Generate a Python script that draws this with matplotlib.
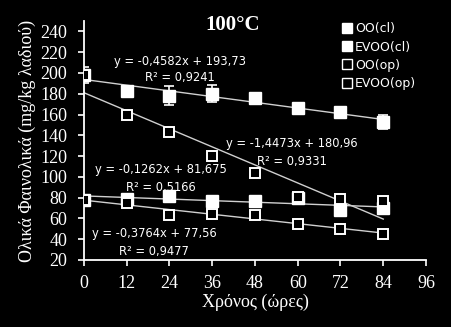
import numpy as np
import matplotlib
matplotlib.use("Agg")
import matplotlib.pyplot as plt

# time points (hours)
hours = [0, 12, 24, 36, 48, 60, 72, 84]

# total phenolics, mg/kg oil
oo_cl = [198, 183, 178, 180, 176, 166, 162, 153]
evoo_cl = [78, 79, 82, 77, 77, 80, 68, 70]
oo_op = [198, 160, 143, 120, 104, 81, 79, 77]
evoo_op = [78, 75, 63, 64, 63, 55, 50, 45]

# error bars
oo_cl_err = [8, 2, 9, 8, 2, 2, 5, 7]
evoo_cl_err = [2, 2, 2, 2, 2, 2, 5, 4]
oo_op_err = [3, 2, 3, 2, 3, 2, 3, 3]
evoo_op_err = [2, 2, 3, 2, 2, 2, 3, 1]

# linear trend lines (as printed on the chart)
slopes = [-0.4582, -0.1262, -1.4473, -0.3764]
intercepts = [193.73, 81.675, 180.96, 77.56]
eq_texts = ["y = -0,4582x + 193,73", "y = -0,1262x + 81,675",
            "y = -1,4473x + 180,96", "y = -0,3764x + 77,56"]
r2_texts = ["R² = 0,9241", "R² = 0,5166", "R² = 0,9331", "R² = 0,9477"]

legend_labels = ["OO(cl)", "EVOO(cl)", "OO(op)", "EVOO(op)"]

W, H = 452, 327
fig = plt.figure(figsize=(W / 100, H / 100), dpi=100, facecolor="black")
ax = fig.add_axes([84 / W, 67 / H, 342 / W, 239 / H], facecolor="black")

# trend lines
xs = np.array([0, 84])
for m, b in zip(slopes, intercepts):
    ax.plot(xs, m * xs + b, color="#d0d0d0", lw=1, zorder=1)

series = [(oo_cl, oo_cl_err, True), (evoo_cl, evoo_cl_err, True),
          (oo_op, oo_op_err, False), (evoo_op, evoo_op_err, False)]
for (vals, err, filled), lab in zip(series, legend_labels):
    if filled:
        ax.errorbar(hours, vals, yerr=err, fmt="s", ms=8.5, mfc="white",
                    mec="white", ecolor="white", elinewidth=1.2,
                    capsize=3.6, capthick=1.2, label=lab, zorder=3)
    else:
        ax.errorbar(hours, vals, yerr=err, fmt="s", ms=7.5, mfc="black",
                    mec="white", mew=1.4, ecolor="white", elinewidth=1.2,
                    capsize=3, capthick=1.2, label=lab, zorder=3)

ax.set_xlim(0, 96)
ax.set_ylim(20, 250)
ax.set_xticks(range(0, 97, 12))
ax.set_yticks(range(20, 241, 20))

for s in ["top", "right"]:
    ax.spines[s].set_visible(False)
for s in ["left", "bottom"]:
    ax.spines[s].set_color("white")
    ax.spines[s].set_linewidth(1.3)
ax.tick_params(colors="white", direction="out", length=4, width=1.2)
ax.tick_params(axis="y", pad=8)
ax.tick_params(axis="x", pad=7)
for lbl in ax.get_xticklabels() + ax.get_yticklabels():
    lbl.set_fontfamily("Liberation Serif")
    lbl.set_fontsize(13)
    lbl.set_color("white")

ax.set_xlabel("Χρόνος (ώρες)", fontfamily="Liberation Serif", fontsize=13,
              color="white", labelpad=1)
ax.set_ylabel("Ολικά Φαινολικά (mg/kg λαδιού)", fontfamily="Liberation Serif",
              fontsize=13, color="white", labelpad=3)

fig.text(233 / W, 1 - 25 / H, "100°C", fontfamily="Liberation Serif",
         fontsize=15, fontweight="bold", color="white", ha="center", va="center")

# equation labels (pixel positions from the chart)
eq_pos = [(180, 61, 77), (161, 169, 187), (292, 143, 161), (154, 234, 252)]
for (cx, ye, yr), t1, t2 in zip(eq_pos, eq_texts, r2_texts):
    fig.text(cx / W, 1 - ye / H, t1, fontsize=8.3, color="white",
             ha="center", va="center")
    fig.text(cx / W, 1 - yr / H, t2, fontsize=8.3, color="white",
             ha="center", va="center")

leg_h = [plt.Line2D([], [], ls="none", marker="s", ms=7,
                    mfc="white" if f else "black", mec="white", mew=1)
         for (_, _, f) in series]
leg = fig.legend(leg_h, legend_labels, loc="upper left",
                 bbox_to_anchor=(336 / W, 1 - 16 / H), frameon=False,
                 handlelength=0.7, handletextpad=0.3, labelspacing=0.42,
                 fontsize=9, borderpad=0)
for t in leg.get_texts():
    t.set_color("white")

fig.savefig("out.png", dpi=100, facecolor="black")
